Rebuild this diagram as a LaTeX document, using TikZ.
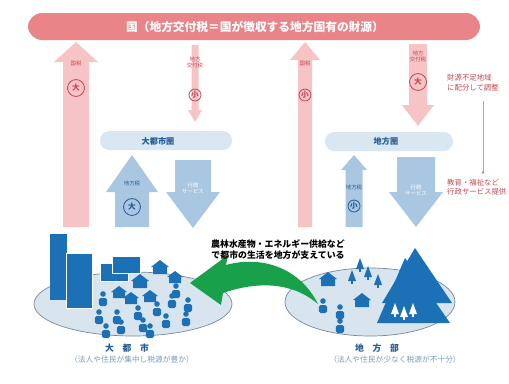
\documentclass[tikz,border=0pt]{standalone}
\usepackage{fontspec}
\setmainfont{Noto Sans CJK JP}
\usetikzlibrary{calc}
\definecolor{kokupink}{RGB}{233,132,137}
\definecolor{arrpink}{RGB}{246,196,197}
\definecolor{redtxt}{RGB}{196,72,84}
\definecolor{barblue}{RGB}{216,231,242}
\definecolor{arrblue}{RGB}{170,199,226}
\definecolor{navy}{RGB}{36,92,150}
\definecolor{picblue}{RGB}{28,112,182}
\definecolor{landfill}{RGB}{216,228,238}
\definecolor{landline}{RGB}{118,138,158}
\definecolor{leafgreen}{RGB}{24,160,74}
% fat arrow: x, y of tail, y of head base, y of tip, half shaft, half head, colour
\newcommand{\fatarrow}[7]{%
  \fill[#7] ({#1-#5},#2) -- ({#1-#5},#3) -- ({#1-#6},#3) -- (#1,#4)
    -- ({#1+#6},#3) -- ({#1+#5},#3) -- ({#1+#5},#2) -- cycle;}
% house: ridge x, ridge y, half width
\newcommand{\house}[3]{%
  \fill[picblue] (#1,#2) -- ({#1+#3+2},{#2+#3}) -- ({#1+#3},{#2+#3}) -- ({#1+#3},{#2+2*#3})
    -- ({#1-#3},{#2+2*#3}) -- ({#1-#3},{#2+#3}) -- ({#1-#3-2},{#2+#3}) -- cycle;}
% person: x, y of the head
\newcommand{\person}[2]{%
  \fill[picblue] (#1,#2) circle (2.8);
  \fill[picblue, rounded corners=1.5pt] ({#1-4.2},{#2+12}) rectangle ({#1+4.2},{#2+4});}
% tree: x, y of the top, colour
\newcommand{\tree}[3]{%
  \fill[#3] (#1,#2) -- ({#1+4},{#2+11}) -- ({#1-4},{#2+11}) -- cycle;
  \fill[#3] ({#1-0.8},{#2+10}) rectangle ({#1+0.8},{#2+14});}

\begin{document}
\begin{tikzpicture}[x=0.03cm, y=-0.03cm,
  lbl/.style={font=\fontsize{4.6}{5.2}\selectfont, align=center, inner sep=0pt},
  maru/.style={circle, draw=#1, text=#1, line width=0.7pt, inner sep=0pt,
    font=\fontsize{6.5}{7}\selectfont\bfseries},
  regiontxt/.style={font=\fontsize{7}{8}\selectfont\bfseries, text=navy},
  sidetxt/.style={font=\fontsize{6.3}{8.2}\selectfont, text=redtxt, align=left, anchor=west, inner sep=0pt}]
  \clip (0,0) rectangle (509,383);
  \fill[white] (0,0) rectangle (509,383);
  % ---------------------------------------------------------------- the national bar
  \fill[kokupink, rounded corners=12pt] (28,13) rectangle (480,40);
  \node[font=\fontsize{10}{11}\selectfont\bfseries, text=white] (kuni) at (255,27)
    {国（地方交付税＝国が徴収する地方固有の財源）};
  % ---------------------------------------------------------------- national tax and allocation arrows
  \fatarrow{76}{227}{62}{42}{13}{22}{arrpink}
  \node[lbl, text=redtxt] (kokuzei1) at (76,63) {国税};
  \node[maru=redtxt, minimum size=17pt*0.85] (dai1) at (76,88) {大};
  \fatarrow{195}{45}{110}{122}{3.5}{7}{arrpink}
  \node[lbl, text=redtxt] (kofu1) at (195,62) {地方\\交付税};
  \node[maru=redtxt, minimum size=12pt*0.85] (sho1) at (195,95) {小};
  \fatarrow{305}{227}{60}{42}{7}{15}{arrpink}
  \node[lbl, text=redtxt] (kokuzei2) at (305,63) {国税};
  \node[maru=redtxt, minimum size=12pt*0.85] (sho2) at (305,95) {小};
  \fatarrow{418}{44}{105}{126}{9}{16}{arrpink}
  \node[lbl, text=redtxt] (kofu2) at (418,56) {地方\\交付税};
  \node[maru=redtxt, minimum size=17pt*0.85] (dai2) at (418,82) {大};
  % redistribution note on the right
  \node[sidetxt] (haibun) at (447,83) {財源不足地域\\に配分して調整};
  \node[sidetxt] (gyosei) at (447,187) {教育・福祉など\\行政サービス提供};
  \draw[redtxt!55, line width=0.6pt] ($(haibun.south west)+(36,10)$) -- ($(gyosei.north west)+(36,-6)$);
  \fill[redtxt!70] ($(gyosei.north west)+(36,-6)$) circle (1.4);
  % ---------------------------------------------------------------- the two regions
  \fill[barblue, rounded corners=8pt] (100,131) rectangle (232,150);
  \node[regiontxt] (toshiken) at (158,141) {大都市圏};
  \fill[barblue, rounded corners=8pt] (325,132) rectangle (453,151);
  \node[regiontxt] (chihoken) at (386,141) {地方圏};
  \fatarrow{132}{227}{192}{155}{17}{26}{arrblue}
  \node[lbl, text=navy] (chihozei1) at (132,183) {地方税};
  \node[maru=navy, minimum size=17pt*0.85] (dai3) at (132,207) {大};
  \fatarrow{193}{160}{192}{228}{18}{27}{arrblue}
  \node[lbl, text=white] (service1) at (193,188) {行政\\サービス};
  \fatarrow{354}{227}{170}{155}{8.5}{13}{arrblue}
  \node[lbl, text=navy] (chihozei2) at (354,187) {地方税};
  \node[maru=navy, minimum size=12pt*0.85] (sho3) at (354,206) {小};
  \fatarrow{416}{157}{192}{227}{19}{27}{arrblue}
  \node[lbl, text=white] (service2) at (416,190) {行政\\サービス};
  % ---------------------------------------------------------------- big city
  \draw[landline, fill=landfill, line width=0.6pt] (133,304) ellipse [x radius=99, y radius=32];
  \fill[picblue] (50,234) rectangle (67,300);
  \fill[picblue, draw=white, line width=0.5pt] (66,253) rectangle (92,308);
  \fill[picblue, draw=white, line width=0.5pt] (100,263) rectangle (128,281);
  \fill[picblue, draw=white, line width=0.5pt] (112,256) rectangle (140,273);
  \house{160}{260}{7}
  \house{140}{274}{7}
  \house{119}{286}{6}
  \house{175}{271}{6}
  \house{131}{292}{6}
  \house{150}{290}{6}
  \foreach \px/\py in {103/294, 99/312, 117/312, 138/308, 157/304, 172/296, 188/300,
    121/322, 143/320, 166/316, 186/314, 176/286, 106/326, 150/326}
    \person{\px}{\py};
  % ---------------------------------------------------------------- countryside
  \draw[landline, fill=landfill, line width=0.6pt] (370,302) ellipse [x radius=85, y radius=34];
  \fill[picblue] (382,303) -- (415,248) -- (452,303) -- cycle;
  \fill[picblue] (377,323) -- (405,258) -- (450,323) -- cycle;
  \foreach \tx/\ty in {395/303, 404/306, 413/303}
    \tree{\tx}{\ty}{white};
  \foreach \tx/\ty in {352/270, 360/258, 368/266, 378/274}
    \tree{\tx}{\ty}{picblue};
  \house{328}{272}{7}
  \house{362}{293}{7}
  \foreach \px/\py in {323/301, 340/307, 340/321}
    \person{\px}{\py};
  % ---------------------------------------------------------------- supply from the countryside to the city
  \fill[leafgreen] (318,304) .. controls (300,268) and (262,255) .. (226,265)
    -- (228,255) -- (190,283) -- (221,305) -- (223,293)
    .. controls (258,281) and (292,282) .. (318,304) -- cycle;
  \node[font=\fontsize{7.6}{9.4}\selectfont\bfseries, align=center] (kyokyu) at (278,250)
    {農林水産物・エネルギー供給など\\で都市の生活を地方が支えている};
  % ---------------------------------------------------------------- captions
  \node[font=\fontsize{7.5}{8}\selectfont\bfseries, text=navy] (daitoshi) at (127,348) {大　都　市};
  \node[font=\fontsize{6.6}{7}\selectfont, text=navy!60] (daitoshi-sub) at (132,360)
    {（法人や住民が集中し税源が豊か）};
  \node[font=\fontsize{7.5}{8}\selectfont\bfseries, text=navy] (chihobu) at (377,348) {地　方　部};
  \node[font=\fontsize{6.6}{7}\selectfont, text=navy!60] (chihobu-sub) at (395,360)
    {（法人や住民が少なく税源が不十分）};
\end{tikzpicture}
\end{document}
